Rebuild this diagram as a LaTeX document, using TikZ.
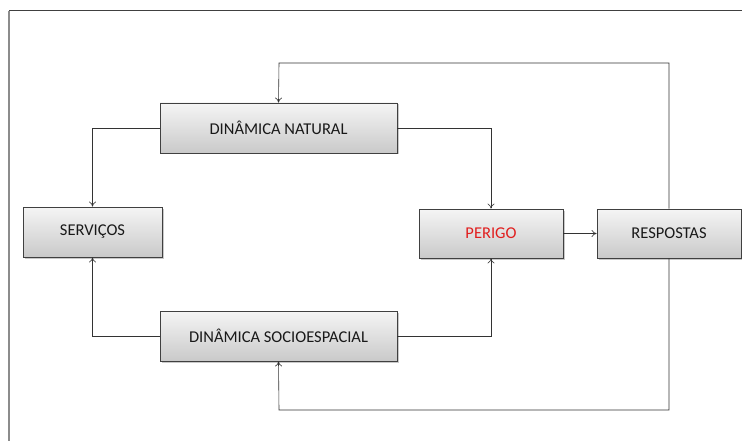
\documentclass[tikz,border=0pt]{standalone}
\usepackage{fontspec}
\setmainfont{Carlito}
\usetikzlibrary{arrows.meta,shadows}
\begin{document}
\begin{tikzpicture}[x=1pt,y=-1pt,
  box/.style={draw=black!75, line width=0.8pt, top color=gray!8, bottom color=gray!42,
    drop shadow={shadow xshift=1.5pt, shadow yshift=-1.5pt, opacity=0.35, fill=black!60},
    font=\fontsize{16.5}{19}\selectfont, text=black!90, inner sep=0pt},
  conn/.style={draw=black!80, line width=0.6pt, -{To[length=5pt,width=7pt]}}
]
\useasboundingbox (0,0) rectangle (742,441);
\fill[white] (0,0) rectangle (742,441);
\draw[black!75, line width=1pt] (9,11) -- (742,11);
\draw[gray!90, line width=2pt] (9,11) -- (9,441);

\node[box, minimum width=237pt, minimum height=50pt] (nat) at (278.5,128) {DINÂMICA NATURAL};
\node[box, minimum width=237pt, minimum height=50pt] (soc) at (278.5,336) {DINÂMICA SOCIOESPACIAL};
\node[box, minimum width=139pt, minimum height=50pt] (serv) at (92.5,232) {SERVIÇOS};
\node[box, minimum width=144pt, minimum height=49pt, text={rgb,255:red,225;green,30;blue,30}] (per) at (491,233.5) {PERIGO};
\node[box, minimum width=144pt, minimum height=49pt] (resp) at (669,233.5) {RESPOSTAS};

\coordinate (tr) at (669,63);
\coordinate (tl) at (279,63);
\coordinate (br) at (669,410);
\coordinate (bl) at (279,410);

\draw[conn] (resp.north) -- (tr) -- (tl) -- (nat.north);
\draw[conn] (resp.south) -- (br) -- (bl) -- (soc.south);
\draw[conn] (nat.west) -| (serv.north);
\draw[conn] (nat.east) -| (per.north);
\draw[conn] (soc.west) -| (serv.south);
\draw[conn] (soc.east) -| (per.south);
\draw[conn] (per.east) -- (resp.west);
\end{tikzpicture}
\end{document}
